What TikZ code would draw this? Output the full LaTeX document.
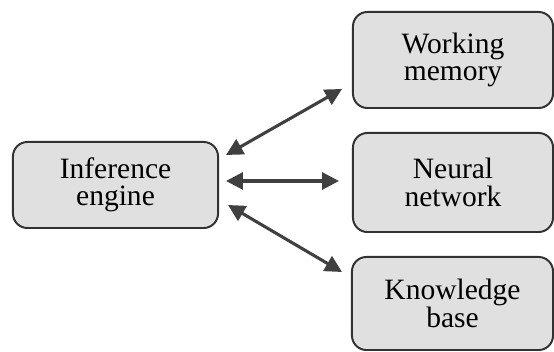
\documentclass[tikz,border=0pt]{standalone}
\usepackage{fontspec}
\setmainfont{Liberation Serif}
\usetikzlibrary{arrows.meta}
\definecolor{boxfill}{RGB}{224,224,224}
\definecolor{boxline}{RGB}{50,50,50}
\definecolor{arrowline}{RGB}{64,64,64}
\begin{document}
\begin{tikzpicture}[x=0.025cm,y=-0.025cm,
    unitbox/.style={draw=boxline,fill=boxfill,line width=1.4pt,rounded corners=0.36cm,
        align=center,inner sep=0pt,font=\fontsize{21}{19.5}\selectfont},
    linkarrow/.style={draw=arrowline,line width=2.2pt,
        {Triangle[length=0.42cm,width=0.42cm]}-{Triangle[length=0.42cm,width=0.42cm]}}]
    \useasboundingbox (0,0) rectangle (554,352);

    % Marking box Inference engine
    \node [unitbox,minimum width=5.125cm,minimum height=2.15cm] (engine) at (115.5,185) {Inference\\engine};%

    % Marking box Working memory
    \node [unitbox,minimum width=5cm,minimum height=2.4cm] (memory) at (453,60) {Working\\memory};%

    % Marking box Neural network
    \node [unitbox,minimum width=5cm,minimum height=2.475cm] (network) at (453,182.5) {Neural\\network};%

    % Marking box Knowledge base
    \node [unitbox,minimum width=5.025cm,minimum height=2.325cm] (knowledge) at (452.5,303.5) {Knowledge\\base};%

    % Drawing links
    \draw [linkarrow] ([shift={(7,-30)}]engine.east) -- ([shift={(-10,-20)}]memory.south west);%
    \draw [linkarrow] ([shift={(7,-4)}]engine.east) -- ([shift={(-13,-1.5)}]network.west);%
    \draw [linkarrow] ([shift={(9,20)}]engine.east) -- ([shift={(-9,16)}]knowledge.north west);%
\end{tikzpicture}
\end{document}
